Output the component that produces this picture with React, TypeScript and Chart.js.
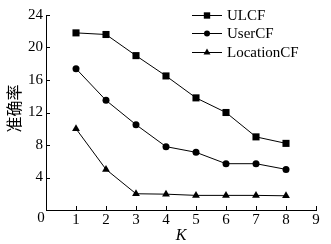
import { useEffect, useRef } from "react";
import { Chart, registerables } from "chart.js";

Chart.register(...registerables);

const kValues = [1, 2, 3, 4, 5, 6, 7, 8];
const ulcf = [21.8, 21.6, 19.0, 16.5, 13.8, 12.0, 9.0, 8.2];
const userCF = [17.4, 13.5, 10.5, 7.8, 7.1, 5.7, 5.7, 5.0];
const locationCF = [10.0, 5.0, 2.0, 1.95, 1.8, 1.8, 1.8, 1.75];
const seriesNames = ["ULCF", "UserCF", "LocationCF"];
const seriesMarkers = ["rect", "circle", "triangle"];
const xTickValues = [0, 1, 2, 3, 4, 5, 6, 7, 8, 9];
const yTickValues = [0, 4, 8, 12, 16, 20, 24];
const originLabel = "0";
const xTitle = "K";
const yTitle = "准确率";

const SERIF = "'Liberation Serif', 'Times New Roman', 'Noto Sans CJK SC', serif";

function drawMarker(ctx: CanvasRenderingContext2D, style: string, x: number, y: number, r: number) {
  ctx.beginPath();
  if (style === "rect") {
    const s = r * Math.SQRT1_2;
    ctx.rect(x - s, y - s, 2 * s, 2 * s);
  } else if (style === "circle") {
    ctx.arc(x, y, r, 0, Math.PI * 2);
  } else {
    ctx.moveTo(x, y - r);
    ctx.lineTo(x + r * Math.sin(Math.PI / 3), y + r * 0.5);
    ctx.lineTo(x - r * Math.sin(Math.PI / 3), y + r * 0.5);
    ctx.closePath();
  }
  ctx.fill();
}

const innerTicks = {
  id: "innerTicks",
  afterDraw(chart: any) {
    const { ctx, chartArea, scales } = chart;
    ctx.save();
    ctx.strokeStyle = "#000";
    ctx.lineWidth = 1;
    ctx.beginPath();
    xTickValues.forEach((v) => {
      if (v === 0) return;
      const px = Math.round(scales.x.getPixelForValue(v)) + 0.5;
      ctx.moveTo(px, chartArea.bottom);
      ctx.lineTo(px, chartArea.bottom - 4);
    });
    yTickValues.forEach((v) => {
      if (v === 0) return;
      const py = Math.round(scales.y.getPixelForValue(v)) + 0.5;
      ctx.moveTo(chartArea.left, py);
      ctx.lineTo(chartArea.left + 4, py);
    });
    ctx.stroke();
    // shared origin label, set to the left of the axis corner
    ctx.fillStyle = "#000";
    ctx.font = `15px ${SERIF}`;
    ctx.textAlign = "center";
    ctx.textBaseline = "top";
    ctx.fillText(originLabel, chartArea.left - 5, chartArea.bottom + 1);
    // y-axis title
    ctx.save();
    ctx.translate(14, (chartArea.top + chartArea.bottom) / 2 - 4);
    ctx.rotate(-Math.PI / 2);
    ctx.font = "16px 'Noto Sans CJK SC', sans-serif";
    ctx.textAlign = "center";
    ctx.textBaseline = "middle";
    ctx.fillText(yTitle, 0, 0);
    ctx.restore();
    ctx.restore();
  },
};

const insideLegend = {
  id: "insideLegend",
  afterDraw(chart: any) {
    const { ctx } = chart;
    const rows = [15, 33.3, 51.7];
    ctx.save();
    ctx.font = `15px ${SERIF}`;
    ctx.textBaseline = "middle";
    ctx.fillStyle = "#000";
    ctx.strokeStyle = "#000";
    ctx.lineWidth = 1;
    chart.data.datasets.forEach((ds: any, i: number) => {
      const y = Math.round(rows[i]) + 0.5;
      ctx.beginPath();
      ctx.moveTo(192, y);
      ctx.lineTo(222, y);
      ctx.stroke();
      const r = seriesMarkers[i] === "rect" ? 4.5 : seriesMarkers[i] === "circle" ? 3 : 4;
      drawMarker(ctx, seriesMarkers[i], 207, y, r);
      ctx.fillText(ds.label, 227, y + 1);
    });
    ctx.restore();
  },
};

export default function App() {
  const ref = useRef<HTMLCanvasElement | null>(null);
  useEffect(() => {
    document.body.style.margin = "0";
    const canvas = ref.current;
    if (!canvas) return;
    const series = [ulcf, userCF, locationCF];
    const radii = [5, 3.5, 4.5];
    const chart = new Chart(canvas, {
      type: "line",
      data: {
        datasets: series.map((vals, i) => ({
          label: seriesNames[i],
          data: kValues.map((k, j) => ({ x: k, y: vals[j] })),
          borderColor: "#000",
          backgroundColor: "#000",
          borderWidth: 1,
          pointStyle: seriesMarkers[i] as any,
          pointRadius: radii[i],
          pointBackgroundColor: "#000",
          pointBorderColor: "#000",
          pointBorderWidth: 0,
          tension: 0,
        })),
      },
      options: {
        animation: false,
        responsive: false,
        devicePixelRatio: 1,
        events: [],
        layout: { padding: { left: 0, right: 15, top: 15, bottom: 0 } },
        plugins: { legend: { display: false }, tooltip: { enabled: false } },
        scales: {
          x: {
            type: "linear",
            min: 0,
            max: 9,
            afterBuildTicks: (scale: any) => {
              scale.ticks = xTickValues.map((v) => ({ value: v }));
            },
            afterFit: (scale: any) => {
              scale.height = 34;
            },
            grid: { display: false, drawTicks: false },
            border: { display: true, color: "#000", width: 1 },
            ticks: {
              color: "#000",
              font: { family: SERIF, size: 15 },
              padding: 1,
              maxRotation: 0,
              autoSkip: false,
              callback: (v: any) => (v === 0 ? "" : String(v)),
            },
            title: {
              display: true,
              text: xTitle,
              color: "#000",
              font: { family: SERIF, size: 16, style: "italic", lineHeight: 1 },
              padding: 0,
            },
          },
          y: {
            type: "linear",
            min: 0,
            max: 24,
            afterBuildTicks: (scale: any) => {
              scale.ticks = yTickValues.map((v) => ({ value: v }));
            },
            afterFit: (scale: any) => {
              scale.width = 46;
            },
            grid: { display: false, drawTicks: false },
            border: { display: true, color: "#000", width: 1 },
            ticks: {
              color: "#000",
              font: { family: SERIF, size: 15 },
              padding: 3,
              autoSkip: false,
              callback: (v: any) => (v === 0 ? "" : String(v)),
            },
            title: { display: false },
          },
        },
      },
      plugins: [innerTicks, insideLegend],
    });
    return () => chart.destroy();
  }, []);
  return (
    <div style={{ position: "absolute", left: 0, top: 0, width: 331, height: 244, background: "#fff" }}>
      <canvas ref={ref} width={331} height={244} style={{ width: 331, height: 244, display: "block" }} />
    </div>
  );
}
